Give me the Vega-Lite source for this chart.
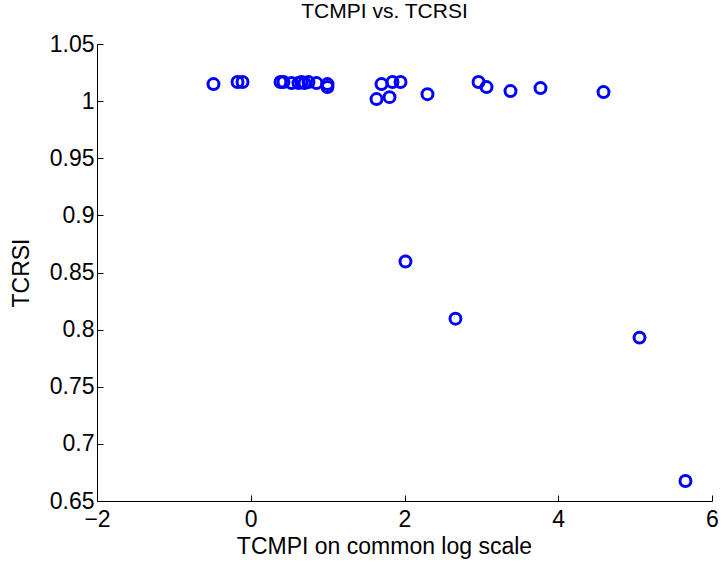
{
  "$schema": "https://vega.github.io/schema/vega-lite/v6.json",
  "width": 615,
  "height": 457,
  "autosize": {"type": "none"},
  "padding": {"left": 97, "top": 44, "right": 10, "bottom": 64},
  "background": "white",
  "config": {
    "view": {"stroke": null},
    "font": "Liberation Sans"
  },
  "title": {
    "text": "TCMPI vs. TCRSI",
    "fontSize": 21,
    "fontWeight": "normal",
    "color": "black",
    "font": "Liberation Sans",
    "anchor": "middle",
    "dx": -20,
    "offset": 11
  },
  "data": {
    "values": [
      {"logTCMPI": -0.485, "TCRSI": 1.0149},
      {"logTCMPI": -0.172, "TCRSI": 1.0167},
      {"logTCMPI": -0.107, "TCRSI": 1.0167},
      {"logTCMPI": 0.387, "TCRSI": 1.0167},
      {"logTCMPI": 0.426, "TCRSI": 1.0167},
      {"logTCMPI": 0.530, "TCRSI": 1.0158},
      {"logTCMPI": 0.621, "TCRSI": 1.0158},
      {"logTCMPI": 0.660, "TCRSI": 1.0167},
      {"logTCMPI": 0.699, "TCRSI": 1.0158},
      {"logTCMPI": 0.751, "TCRSI": 1.0167},
      {"logTCMPI": 0.855, "TCRSI": 1.0158},
      {"logTCMPI": 0.998, "TCRSI": 1.0149},
      {"logTCMPI": 0.998, "TCRSI": 1.0123},
      {"logTCMPI": 1.636, "TCRSI": 1.0018},
      {"logTCMPI": 1.701, "TCRSI": 1.0149},
      {"logTCMPI": 1.805, "TCRSI": 1.0035},
      {"logTCMPI": 1.844, "TCRSI": 1.0167},
      {"logTCMPI": 1.948, "TCRSI": 1.0167},
      {"logTCMPI": 2.299, "TCRSI": 1.0061},
      {"logTCMPI": 2.963, "TCRSI": 1.0167},
      {"logTCMPI": 3.067, "TCRSI": 1.0123},
      {"logTCMPI": 3.379, "TCRSI": 1.0088},
      {"logTCMPI": 3.769, "TCRSI": 1.0114},
      {"logTCMPI": 4.589, "TCRSI": 1.0079},
      {"logTCMPI": 2.013, "TCRSI": 0.8596},
      {"logTCMPI": 2.663, "TCRSI": 0.8096},
      {"logTCMPI": 5.057, "TCRSI": 0.793},
      {"logTCMPI": 5.655, "TCRSI": 0.6675}
    ]
  },
  "mark": {
    "type": "point",
    "shape": "circle",
    "filled": false,
    "color": "#0000ff",
    "strokeWidth": 3,
    "size": 120,
    "opacity": 1
  },
  "encoding": {
    "x": {
      "field": "logTCMPI",
      "type": "quantitative",
      "scale": {"domain": [-2, 6], "nice": false, "zero": false},
      "axis": {
        "title": "TCMPI on common log scale",
        "values": [-2, 0, 2, 4, 6],
        "format": "d",
        "grid": false,
        "labelFlush": false,
        "labelOverlap": false,
        "domainColor": "black",
        "domainWidth": 1,
        "tickColor": "black",
        "tickSize": -6,
        "labelPadding": 13,
        "labelFontSize": 23,
        "labelColor": "black",
        "labelFont": "Liberation Sans",
        "titleFontSize": 23,
        "titleFontWeight": "normal",
        "titleColor": "black",
        "titleFont": "Liberation Sans",
        "titleX": 287,
        "titlePadding": 4
      }
    },
    "y": {
      "field": "TCRSI",
      "type": "quantitative",
      "scale": {"domain": [0.65, 1.05], "nice": false, "zero": false},
      "axis": {
        "title": "TCRSI",
        "values": [0.65, 0.7, 0.75, 0.8, 0.85, 0.9, 0.95, 1, 1.05],
        "format": "~g",
        "grid": false,
        "labelFlush": false,
        "labelOverlap": false,
        "domainColor": "black",
        "domainWidth": 1,
        "tickColor": "black",
        "tickSize": -6,
        "labelPadding": 9,
        "labelFontSize": 23,
        "labelColor": "black",
        "labelFont": "Liberation Sans",
        "titleFontSize": 23,
        "titleFontWeight": "normal",
        "titleColor": "black",
        "titleFont": "Liberation Sans",
        "titlePadding": 16
      }
    }
  }
}
